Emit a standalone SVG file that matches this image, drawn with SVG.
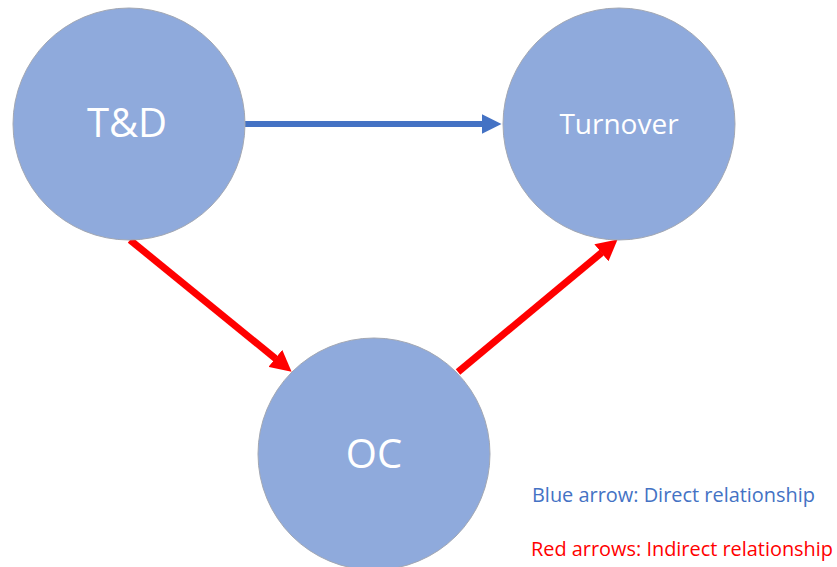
<svg xmlns="http://www.w3.org/2000/svg" width="837" height="567" viewBox="0 0 837 567">
  <style>
    .node { fill: #8FAADC; stroke: #A3A8B3; stroke-width: 1; }
    .label { fill: #FFFFFF; font-family: "Open Sans", "Noto Sans", sans-serif; text-anchor: middle; }
    .legend { font-family: "Open Sans", "Noto Sans", sans-serif; font-size: 20px; }
    .direct { stroke: #4472C4; stroke-width: 6; fill: none; }
    .indirect { stroke: #FF0000; stroke-width: 7; fill: none; }
  </style>
  <defs>
    <marker id="head-blue" markerUnits="userSpaceOnUse" markerWidth="20" markerHeight="20" refX="0.5" refY="10" orient="auto">
      <path d="M0,0 L20,10 L0,20 z" fill="#4472C4"/>
    </marker>
    <marker id="head-red" markerUnits="userSpaceOnUse" markerWidth="22" markerHeight="22" refX="0.5" refY="11" orient="auto">
      <path d="M0,0 L21,11 L0,22 z" fill="#FF0000"/>
    </marker>
  </defs>

  <rect width="837" height="567" fill="#FFFFFF"/>

  <g id="connectors">
    <line class="direct" x1="245" y1="124" x2="482" y2="124" marker-end="url(#head-blue)"/>
    <line class="indirect" x1="130" y1="240" x2="275.7" y2="358.7" marker-end="url(#head-red)"/>
    <line class="indirect" x1="458" y1="372" x2="601.8" y2="252.5" marker-end="url(#head-red)"/>
  </g>

  <g id="node-td">
    <circle class="node" cx="129" cy="124" r="116"/>
    <text class="label" x="127" y="137" font-size="40">T&amp;D</text>
  </g>

  <g id="node-turnover">
    <circle class="node" cx="619" cy="124" r="116"/>
    <text class="label" x="619" y="134" font-size="28">Turnover</text>
  </g>

  <g id="node-oc">
    <circle class="node" cx="374" cy="454" r="116"/>
    <text class="label" x="374" y="468" font-size="40">OC</text>
  </g>

  <g id="legend">
    <text class="legend" x="532" y="502" fill="#4472C4" textLength="283" lengthAdjust="spacingAndGlyphs">Blue arrow: Direct relationship</text>
    <text class="legend" x="531" y="556" fill="#FF0000" textLength="302" lengthAdjust="spacingAndGlyphs">Red arrows: Indirect relationship</text>
  </g>
</svg>
